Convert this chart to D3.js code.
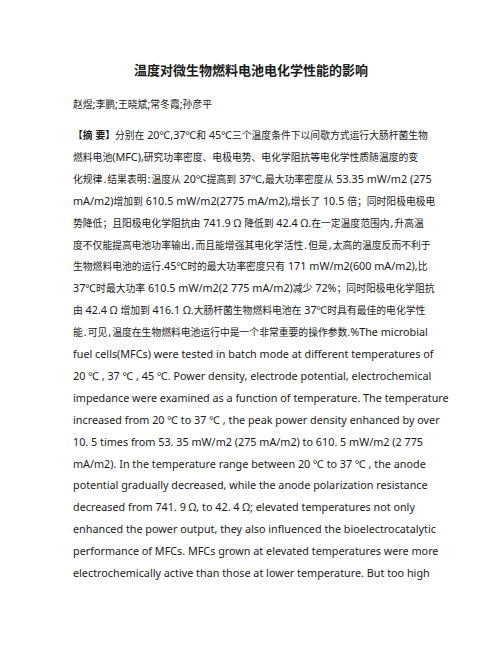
<!DOCTYPE html>
<html>
<head>
<meta charset="utf-8">
<script src="https://cdn.jsdelivr.net/npm/d3@7"></script>
<style>
  html, body { margin: 0; padding: 0; background: #fff; }
  svg { display: block; }
  text { font-family: "Noto Sans CJK SC", "Noto Sans", sans-serif; fill: #1a1a1a; white-space: pre; }
  tspan.cjk { font-family: "Noto Sans CJK SC", sans-serif; font-size: 9.8px; }
  tspan.lat { font-family: "Noto Sans", "Open Sans", sans-serif; font-size: 10.8px; }
  tspan.pun { font-family: "Noto Sans", "Open Sans", sans-serif; font-size: 10.8px; }
</style>
</head>
<body>
<script>
(function() {
  'use strict';

  const title = '温度对微生物燃料电池电化学性能的影响';
  const authors = '赵煜;李鹏;王晓斌;常冬霞;孙彦平';
  const abstractLabel = '【摘 要】';

  const abstractLines = [
    '分别在 20℃,37℃和 45℃三个温度条件下以间歇方式运行大肠杆菌生物',
    '燃料电池(MFC),研究功率密度、电极电势、电化学阻抗等电化学性质随温度的变',
    '化规律.结果表明:温度从 20℃提高到 37℃,最大功率密度从 53.35 mW/m2 (275',
    'mA/m2)增加到 610.5 mW/m2(2775 mA/m2),增长了 10.5 倍；同时阳极电极电',
    '势降低；且阳极电化学阻抗由 741.9 Ω 降低到 42.4 Ω.在一定温度范围内,升高温',
    '度不仅能提高电池功率输出,而且能增强其电化学活性.但是,太高的温度反而不利于',
    '生物燃料电池的运行.45℃时的最大功率密度只有 171 mW/m2(600 mA/m2),比',
    '37℃时最大功率 610.5 mW/m2(2 775 mA/m2)减少 72%；同时阳极电化学阻抗',
    '由 42.4 Ω 增加到 416.1 Ω.大肠杆菌生物燃料电池在 37℃时具有最佳的电化学性',
    '能.可见,温度在生物燃料电池运行中是一个非常重要的操作参数.%The microbial',
    'fuel cells(MFCs) were tested in batch mode at different temperatures of',
    '20 ℃ , 37 ℃ , 45 ℃. Power density, electrode potential, electrochemical',
    'impedance were examined as a function of temperature. The temperature',
    'increased from 20 ℃ to 37 ℃ , the peak power density enhanced by over',
    '10. 5 times from 53. 35 mW/m2 (275 mA/m2) to 610. 5 mW/m2 (2 775',
    'mA/m2). In the temperature range between 20 ℃ to 37 ℃ , the anode',
    'potential gradually decreased, while the anode polarization resistance',
    'decreased from 741. 9 Ω, to 42. 4 Ω; elevated temperatures not only',
    'enhanced the power output, they also influenced the bioelectrocatalytic',
    'performance of MFCs. MFCs grown at elevated temperatures were more',
    'electrochemically active than those at lower temperature. But too high'
  ];

  const w = 502;
  const h = 649;
  const left = 73;

  // split a string into runs of CJK and non-CJK characters
  const cjk = /[\u3000-\u303f\u4e00-\u9fff\uff00-\uffef]/;
  function runs(s) {
    return s.split(/([\u3000-\u303f\u4e00-\u9fff\uff00-\uffef]+)/)
      .filter(t => t.length > 0)
      .map(t => ({
        text: t,
        cls: cjk.test(t) ? 'cjk' : (/^[,.:]+$/.test(t) ? 'pun' : 'lat')
      }));
  }

  function addRuns(sel, s, bold) {
    runs(s).forEach(r => {
      const sp = sel.append('tspan')
        .attr('class', r.cls)
        .attr('font-weight', bold ? 'bold' : null)
        .text(r.text);
      // half-width gap on both sides of lone punctuation between CJK
      if (r.cls === 'pun') sp.attr('dx', 1);
      if (r.cls === 'cjk' && sel.selectAll('tspan').size() > 1 &&
          sel.selectAll('tspan').nodes().slice(-2)[0].getAttribute('class') === 'pun') {
        sp.attr('dx', 1);
      }
    });
  }

  const svg = d3.select('body')
    .append('svg')
    .attr('width', w)
    .attr('height', h);

  // title
  svg.append('text')
    .attr('x', 251)
    .attr('y', 75)
    .attr('text-anchor', 'middle')
    .attr('font-size', 13)
    .attr('font-weight', 'bold')
    .text(title);

  // authors
  const authorText = svg.append('text')
    .attr('x', left)
    .attr('y', 108);
  addRuns(authorText, authors, false);

  // line index -> baseline
  const yScale = d3.scaleLinear()
    .domain([0, abstractLines.length - 1])
    .range([139, 577]);

  svg.selectAll('text.line')
    .data(abstractLines)
    .enter()
    .append('text')
    .attr('class', 'line')
    .attr('x', left)
    .attr('y', (d, i) => yScale(i))
    .each(function(d, i) {
      const t = d3.select(this);
      if (i === 0) addRuns(t, abstractLabel, true);
      addRuns(t, d, false);
    });
}());
</script>
</body>
</html>
